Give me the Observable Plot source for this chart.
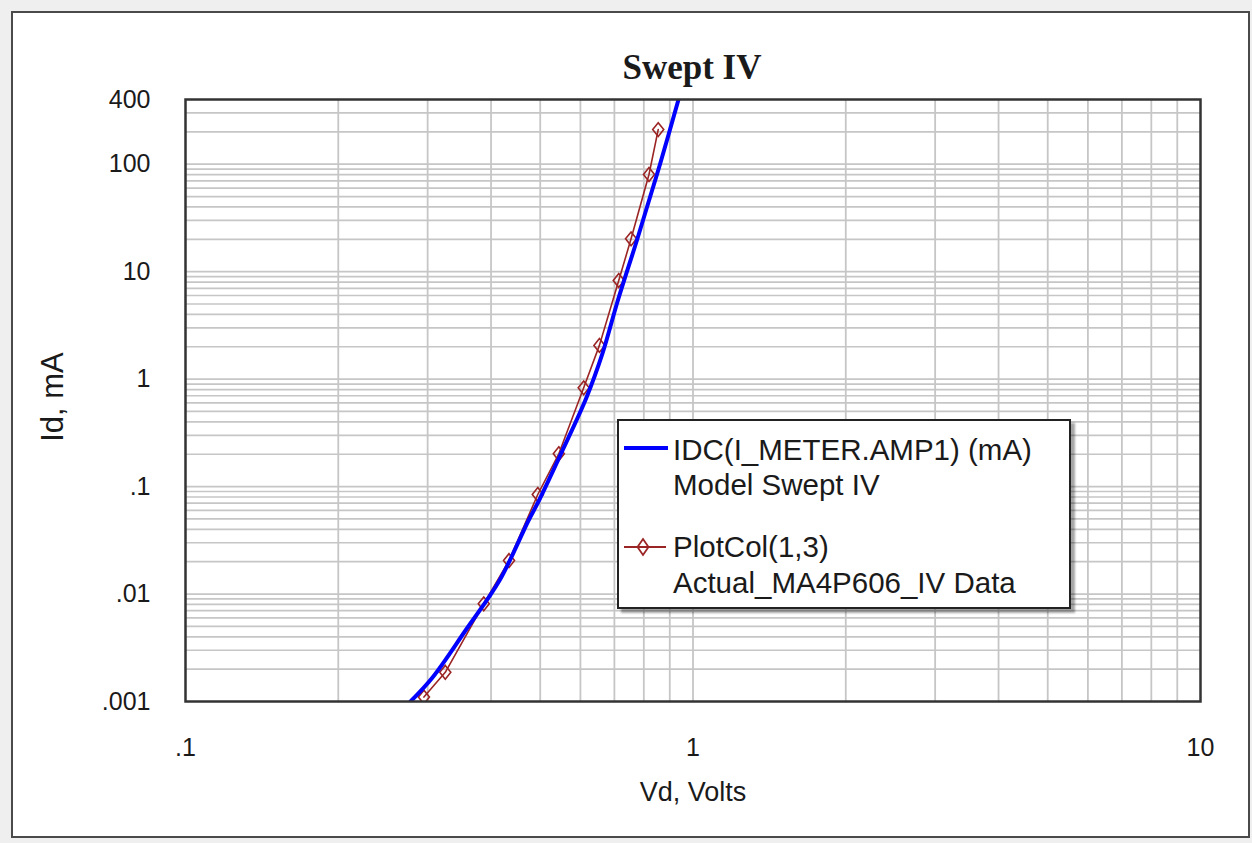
<!DOCTYPE html>
<html>
<head>
<meta charset="utf-8">
<script src="https://cdn.jsdelivr.net/npm/d3@7"></script>
<script src="https://cdn.jsdelivr.net/npm/@observablehq/plot@0.6"></script>
<style>
  html, body { margin: 0; padding: 0; background: #efefef; }
  #wrap { position: relative; width: 1252px; height: 843px; overflow: hidden; }
  #frame { position: absolute; left: 11px; top: 11px; width: 1239px; height: 827px; box-sizing: border-box;
           border: 2.5px solid #4a4a4a; background: #fff; }
  #chart { position: absolute; left: 0; top: 0; }
  #title { position: absolute; left: 492px; width: 400px; top: 48px; height: 40px; line-height: 40px; text-align: center;
           font-family: "Liberation Serif", "Times New Roman", serif; font-weight: bold; font-size: 35px; color: #1a1a1a; }
  #ylabel { position: absolute; left: 52px; top: 397px; transform: translate(-50%, -50%) rotate(-90deg);
            font-family: "Liberation Sans", Arial, sans-serif; font-size: 31px; color: #1a1a1a; white-space: nowrap; line-height: 1; }
  #legend { position: absolute; left: 617px; top: 419px; width: 454px; height: 190px; box-sizing: border-box;
            border: 2px solid #222; background: #fff; box-shadow: 4px 4px 2px rgba(0,0,0,0.35);
            font-family: "Liberation Sans", Arial, sans-serif; font-size: 29.5px; color: #1a1a1a; }
  #legend .t { position: absolute; left: 54px; height: 34px; line-height: 34px; white-space: nowrap; }
  #legend svg { position: absolute; left: 0; top: 0; }
</style>
</head>
<body>
<div id="wrap">
  <div id="frame"></div>
  <div id="chart"></div>
  <div id="title"></div>
  <div id="ylabel"></div>
  <div id="legend"></div>
</div>
<script>
// ---- data ----
const titleText = "Swept IV";
const xLabel = "Vd, Volts";
const yLabel = "Id, mA";

// Model curve: IDC(I_METER.AMP1) (mA)
const modelV = [0.2776, 0.3067, 0.3562, 0.4156, 0.4741, 0.4972, 0.5531, 0.6168, 0.6632, 0.7101, 0.7773, 0.8247, 0.863, 0.9364];
const modelI = [0.001, 0.001672, 0.004578, 0.01336, 0.04834, 0.0742, 0.2167, 0.6744, 1.732, 5.275, 20.35, 51.1, 103.7, 400];

// Measured data: PlotCol(1,3)
const dataV = [0.295, 0.325, 0.387, 0.434, 0.4945, 0.544, 0.609, 0.654, 0.714, 0.755, 0.819, 0.854];
const dataI = [0.0011, 0.00187, 0.00811, 0.0205, 0.0844, 0.202, 0.830, 2.06, 8.28, 20.2, 80.2, 210];

const legendLabels = [
  ["IDC(I_METER.AMP1) (mA)", "Model Swept IV"],
  ["PlotCol(1,3)", "Actual_MA4P606_IV Data"]
];

const xDomain = [0.1, 10];
const yDomain = [0.001, 400];
const xTicks = [0.1, 1, 10];
const yTicks = [0.001, 0.01, 0.1, 1, 10, 100, 400];
const xGrid = [0.2, 0.3, 0.4, 0.5, 0.6, 0.7, 0.8, 0.9, 1, 2, 3, 4, 5, 6, 7, 8, 9];
const yGrid = [0.002, 0.003, 0.004, 0.005, 0.006, 0.007, 0.008, 0.009,
               0.01, 0.02, 0.03, 0.04, 0.05, 0.06, 0.07, 0.08, 0.09,
               0.1, 0.2, 0.3, 0.4, 0.5, 0.6, 0.7, 0.8, 0.9,
               1, 2, 3, 4, 5, 6, 7, 8, 9,
               10, 20, 30, 40, 50, 60, 70, 80, 90,
               100, 200, 300];

const blue = "#0000ff";
const red = "#9b2424";

const model = modelV.map((v, i) => ({v, i: modelI[i]}));
const meas = dataV.map((v, i) => ({v, i: dataI[i]}));
const fmt = d => d < 1 ? String(d).replace(/^0/, "") : String(d);

// tall open diamond marker
const tallDiamond = {
  draw(ctx, size) {
    const h = Math.sqrt(size / Math.PI) * 1.15, w = h * 0.8;
    ctx.moveTo(0, -h); ctx.lineTo(w, 0); ctx.lineTo(0, h); ctx.lineTo(-w, 0); ctx.closePath();
  }
};

const plot = Plot.plot({
  width: 1252,
  height: 843,
  marginLeft: 185,
  marginRight: 52,
  marginTop: 99,
  marginBottom: 142,
  style: {background: "transparent", fontFamily: "Liberation Sans, Arial, sans-serif", color: "#1a1a1a"},
  x: {type: "log", domain: xDomain},
  y: {type: "log", domain: yDomain},
  marks: [
    Plot.ruleX(xGrid, {stroke: "#c6c6c6", strokeWidth: 1.8}),
    Plot.ruleY(yGrid, {stroke: "#c6c6c6", strokeWidth: 1.7}),
    Plot.axisX({ticks: xTicks, tickFormat: fmt, tickSize: 0, tickPadding: 37, fontSize: 25, label: null}),
    Plot.axisY({ticks: [], label: null}),
    Plot.text(yTicks, {y: d => d, text: fmt, frameAnchor: "left", dx: -35, textAnchor: "end", fontSize: 25, fill: "#1a1a1a"}),
    Plot.text([xLabel], {text: d => d, frameAnchor: "bottom", dy: 99, fontSize: 27, fill: "#1a1a1a"}),
    Plot.line(meas, {x: "v", y: "i", stroke: red, strokeWidth: 1.6, clip: true}),
    Plot.dot(meas, {x: "v", y: "i", symbol: tallDiamond, r: 6, stroke: red, strokeWidth: 1.6, fill: "none", clip: true}),
    Plot.line(model, {x: "v", y: "i", stroke: blue, strokeWidth: 4, curve: "catmull-rom", clip: true}),
    Plot.frame({stroke: "#333", strokeWidth: 2.5})
  ]
});
document.getElementById("chart").appendChild(plot);
document.getElementById("title").textContent = titleText;
document.getElementById("ylabel").textContent = yLabel;

// legend
const lg = document.getElementById("legend");
const rowsY = [[31, 66], [128, 164]];
legendLabels.forEach((lines, k) => {
  lines.forEach((txt, j) => {
    const d = document.createElement("div");
    d.className = "t";
    d.style.top = (rowsY[k][j] - 17 - 2) + "px";
    d.textContent = txt;
    lg.appendChild(d);
  });
});
const ns = "http://www.w3.org/2000/svg";
const sv = document.createElementNS(ns, "svg");
sv.setAttribute("width", 60); sv.setAttribute("height", 180);
sv.innerHTML =
  `<line x1="5" x2="49" y1="27" y2="27" stroke="${blue}" stroke-width="4"/>` +
  `<line x1="5" x2="47" y1="126" y2="126" stroke="${red}" stroke-width="1.8"/>` +
  `<path d="M24,118 L29.5,126 L24,134 L18.5,126 Z" fill="none" stroke="${red}" stroke-width="1.8"/>`;
lg.appendChild(sv);
</script>
</body>
</html>
